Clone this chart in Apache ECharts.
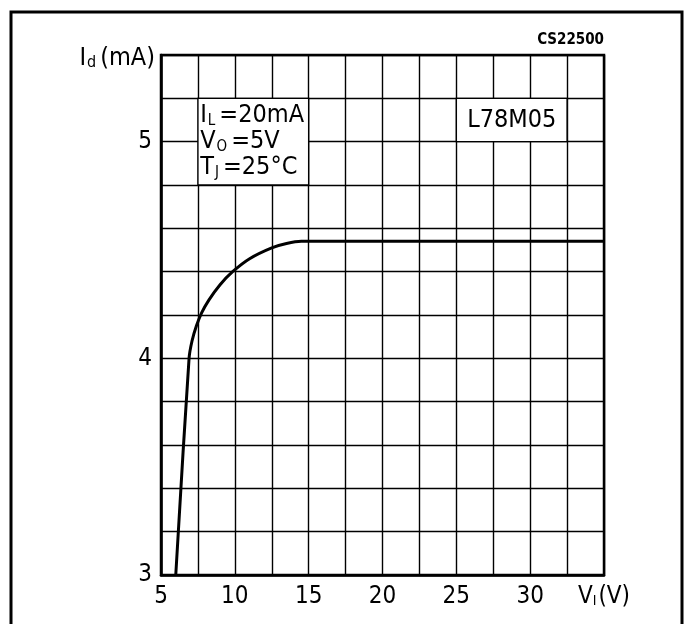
<!DOCTYPE html>
<html>
<head>
<meta charset="utf-8">
<script src="https://cdn.jsdelivr.net/npm/echarts@6/dist/echarts.min.js"></script>
<style>html,body{margin:0;padding:0;background:#fff}#c{width:690px;height:624px}</style>
</head>
<body>
<div id="c"></div>
<script>
var vin = [6.0, 6.9, 7.1, 7.4, 7.75, 8.25, 9.0, 9.85, 11.0, 12.5, 13.5, 14.5, 15.0, 25.0, 35.0];
var iq  = [3.0, 4.0, 4.08, 4.15, 4.21, 4.27, 4.34, 4.40, 4.46, 4.51, 4.53, 4.54, 4.54, 4.54, 4.54];
var xTicks = [5, 10, 15, 20, 25, 30];
var yTicks = [3, 4, 5];

var FONT = '"DejaVu Sans Condensed", "DejaVu Sans", sans-serif';
var curve = vin.map(function (v, i) { return [v, iq[i]]; });

var chart = echarts.init(document.getElementById('c'));
chart.setOption({
  animation: false,
  backgroundColor: '#fff',
  grid: { left: 161, top: 55, width: 443, height: 520, show: true, borderColor: '#000', borderWidth: 2.5, backgroundColor: 'transparent' },
  xAxis: {
    type: 'value', min: 5, max: 35, interval: 2.5,
    axisLine: { show: true, lineStyle: { color: '#000', width: 2.5 } },
    axisTick: { show: false },
    splitLine: { show: true, lineStyle: { color: '#000', width: 1.4 } },
    axisLabel: {
      margin: 10, color: '#000', fontFamily: FONT, fontSize: 24, showMaxLabel: true,
      formatter: function (v) {
        if (Math.abs(v - 35) < 1e-6) return '{a|V}{s|I}{a|(V)}';
        for (var k = 0; k < xTicks.length; k++) if (Math.abs(v - xTicks[k]) < 1e-6) return String(xTicks[k]);
        return '';
      },
      rich: {
        a: { fontFamily: FONT, fontSize: 24, color: '#000' },
        s: { fontFamily: FONT, fontSize: 14, color: '#000', padding: [8, 2, 0, 0] }
      }
    }
  },
  yAxis: {
    type: 'value', min: 3, max: 5.4, interval: 0.2,
    axisLine: { show: true, lineStyle: { color: '#000', width: 2.5 } },
    axisTick: { show: false },
    splitLine: { show: true, lineStyle: { color: '#000', width: 1.4 } },
    axisLabel: {
      margin: 9, color: '#000', fontFamily: FONT, fontSize: 24,
      formatter: function (v) {
        for (var k = 0; k < yTicks.length; k++) if (Math.abs(v - yTicks[k]) < 1e-6) return String(yTicks[k]);
        return '';
      }
    }
  },
  series: [{
    type: 'line', data: curve, showSymbol: false, smooth: 0.3,
    lineStyle: { color: '#000', width: 3 }, z: 5,
    markArea: {
      silent: true,
      data: [
        [{ coord: [7.5, 5.2], itemStyle: { color: '#fff', borderColor: '#000', borderWidth: 1.4 },
           label: { show: true, position: 'insideLeft', distance: 3,
             formatter: '{t|I}{s|L}{t|=20mA}\n{t|V}{s|O}{t|=5V}\n{t|T}{s|J}{t|=25°C}',
             rich: {
               t: { fontFamily: FONT, fontSize: 25, color: '#000', lineHeight: 26 },
               s: { fontFamily: FONT, fontSize: 15, color: '#000', lineHeight: 26, padding: [10, 4, 0, 1] }
             } } },
         { coord: [15, 4.8] }],
        [{ coord: [25, 5.2], itemStyle: { color: '#fff', borderColor: '#000', borderWidth: 1.4 },
           label: { show: true, position: 'inside', formatter: 'L78M05', fontFamily: FONT, fontSize: 25, color: '#000' } },
         { coord: [32.5, 5.0] }]
      ]
    }
  }],
  graphic: [
    { type: 'rect', shape: { x: 11, y: 12, width: 671, height: 640 }, style: { fill: 'none', stroke: '#000', lineWidth: 3 }, silent: true },
    { type: 'text', right: 86, top: 33, style: { text: 'CS22500', font: 'bold 15px ' + FONT, fill: '#000' } },
    { type: 'text', x: 155, y: 58, style: {
        text: '{a|I}{s|d}{a|(mA)}', align: 'right', verticalAlign: 'middle',
        rich: {
          a: { fontFamily: FONT, fontSize: 25, fill: '#000' },
          s: { fontFamily: FONT, fontSize: 16, fill: '#000', padding: [10, 4, 0, 1] }
        } } }
  ]
});
</script>
</body>
</html>
